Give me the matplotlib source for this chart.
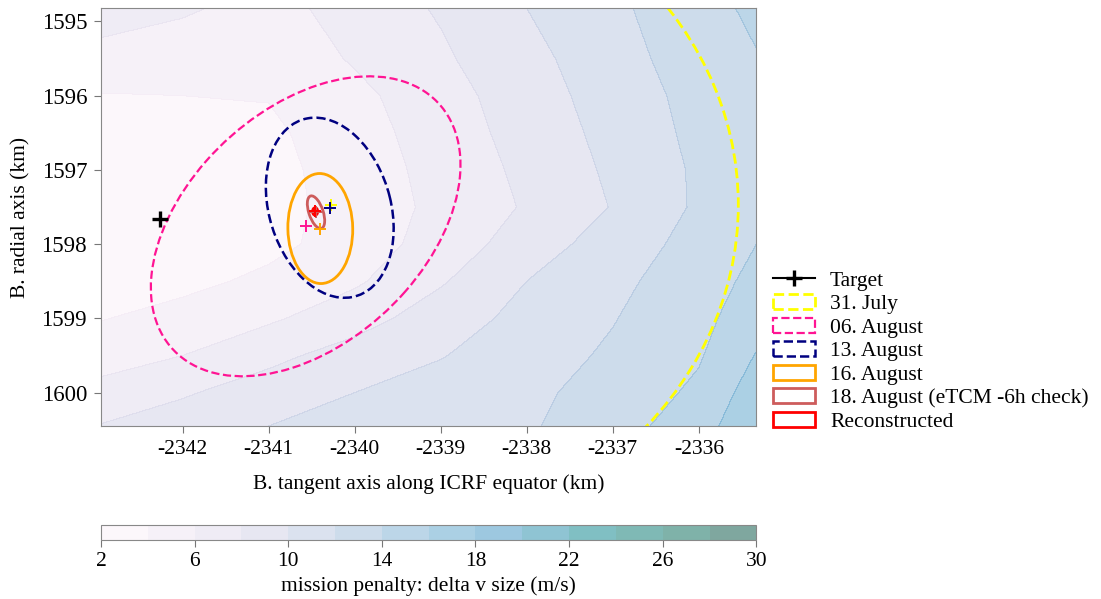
import numpy as np
import matplotlib.pyplot as plt
from matplotlib.patches import Ellipse

plt.rcParams['font.family'] = ['Liberation Serif', 'DejaVu Serif']
plt.rcParams['axes.unicode_minus'] = False

# delta-v map (m/s), rows = radial, cols = tangent
grid_x = [-2342.95, -2342, -2341, -2340, -2339, -2338, -2337, -2336, -2335.33]
grid_y = [1594.82, 1595.5, 1596.0, 1596.5, 1597.0, 1597.5, 1598.0,
          1598.5, 1599.0, 1599.5, 1600.0, 1600.45]
dv = [
    [7.0, 6.3, 5.2, 6.9, 8.2, 10.0, 11.6, 13.3, 14.4],
    [5.3, 4.8, 4.7, 6.2, 7.7, 9.4, 11.2, 13.0, 13.9],
    [3.9, 4.0, 4.1, 5.5, 7.2, 9.05, 10.9, 12.65, 13.6],
    [3.0, 2.8, 3.6, 5.2, 6.9, 8.8, 10.6, 12.5, 13.3],
    [2.9, 2.65, 3.4, 4.9, 6.7, 8.45, 10.35, 12.3, 13.4],
    [2.8, 2.5, 3.3, 4.8, 6.5, 8.2, 10.1, 12.3, 13.6],
    [2.95, 2.8, 3.4, 5.0, 6.8, 9.0, 10.9, 12.7, 14.0],
    [3.3, 3.4, 4.5, 5.7, 7.8, 10.0, 11.5, 13.1, 14.5],
    [3.9, 4.8, 5.7, 7.2, 9.0, 10.6, 11.9, 13.5, 15.0],
    [5.2, 6.0, 7.5, 8.8, 9.9, 11.1, 12.3, 13.8, 16.1],
    [6.6, 7.8, 8.9, 10.0, 10.8, 11.6, 12.7, 14.4, 17.0],
    [8.1, 8.9, 10.0, 10.6, 11.2, 11.8, 13.0, 15.3, 17.3],
]

target_x = -2342.26
target_y = 1597.66

labels = ["31. July", "06. August", "13. August", "16. August",
          "18. August (eTCM -6h check)", "Reconstructed"]
center_x = [-2340.28, -2340.57, -2340.29, -2340.40, -2340.45, -2340.46]
center_y = [1597.47, 1597.76, 1597.51, 1597.79, 1597.57, 1597.56]
half_x = [4.74, 1.80, 0.743, 0.377, 0.101, 0.03]
half_y = [4.72, 2.02, 1.213, 0.741, 0.22, 0.05]
rho = [0.0, -0.41, 0.23, 0.02, 0.52, 0.0]

colors = ['yellow', 'deeppink', 'navy', 'orange', 'indianred', 'red']
styles = ['--', '--', '--', '-', '-', '-']
widths = [2.0, 1.6, 1.8, 2.0, 2.0, 2.0]

fig = plt.figure(figsize=(11.01, 5.99), dpi=100)
ax = fig.add_axes([0.0917, 0.2888, 0.5953, 0.6978])

X, Y = np.meshgrid(grid_x, grid_y)
cs = ax.contourf(X, Y, np.array(dv), levels=np.arange(2, 31, 2),
                 cmap='PuBuGn', alpha=0.5)

ax.plot([target_x], [target_y], marker='+', color='black', ms=12, mew=2.4,
        label='Target')

for i in range(len(labels)):
    cov = np.array([[half_x[i] ** 2, rho[i] * half_x[i] * half_y[i]],
                    [rho[i] * half_x[i] * half_y[i], half_y[i] ** 2]])
    vals, vecs = np.linalg.eigh(cov)
    ang = np.degrees(np.arctan2(vecs[1, 1], vecs[0, 1]))
    e = Ellipse((center_x[i], center_y[i]), 2 * np.sqrt(vals[1]), 2 * np.sqrt(vals[0]),
                angle=ang, fill=False, edgecolor=colors[i], linestyle=styles[i],
                linewidth=widths[i], label=labels[i])
    ax.add_patch(e)
    ax.plot([center_x[i]], [center_y[i]], '+', color=colors[i], ms=8, mew=1.4)

ax.set_xlim(-2342.95, -2335.33)
ax.set_ylim(1600.45, 1594.82)
ax.set_xticks(np.arange(-2342, -2335, 1))
ax.set_yticks(np.arange(1595, 1601, 1))
ax.tick_params(labelsize=15.5, color='#777777', length=5, pad=5)
ax.tick_params(axis='y', labelsize=16.5)
for s in ax.spines.values():
    s.set_color('#888888')
ax.set_xlabel('B. tangent axis along ICRF equator (km)', fontsize=15.5, labelpad=11)
ax.set_ylabel('B. radial axis (km)', fontsize=15.5, labelpad=8)

ax.legend(loc='upper left', bbox_to_anchor=(0.702, 0.548), bbox_transform=fig.transFigure,
          frameon=False, fontsize=15.5, borderpad=0, borderaxespad=0,
          labelspacing=0.16, handlelength=1.95, handletextpad=0.7)

cax = fig.add_axes([0.0917, 0.0985, 0.5953, 0.025])
cb = fig.colorbar(cs, cax=cax, orientation='horizontal', ticks=np.arange(2, 31, 4))
cb.ax.tick_params(labelsize=15.5, color='#777777', length=5)
cb.outline.set_edgecolor('#888888')
cb.set_label('mission penalty: delta v size (m/s)', fontsize=15.5)

fig.savefig('out.png', dpi=100)
